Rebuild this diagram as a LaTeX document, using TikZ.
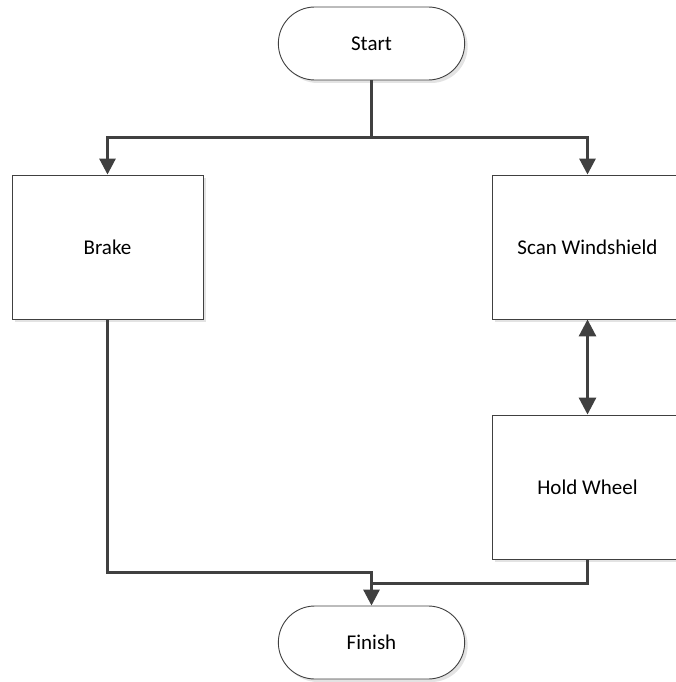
\documentclass[tikz,border=0pt]{standalone}
\usepackage{fontspec}
\setmainfont{Carlito}
\usetikzlibrary{arrows.meta,shapes.misc,shadows}
\definecolor{edge}{HTML}{404040}
\definecolor{shade}{HTML}{E3E3E3}
\tikzset{
  boxshadow/.style={drop shadow={shadow xshift=3pt,shadow yshift=-3pt,fill=shade,opacity=1}},
  terminal/.style={rounded rectangle,draw=edge,line width=0.9pt,fill=white,
    minimum width=193pt,minimum height=73pt,boxshadow,
    font=\fontsize{21}{25}\selectfont},
  process/.style={rectangle,draw=edge,line width=0.9pt,fill=white,
    minimum width=191pt,minimum height=144pt,boxshadow,
    font=\fontsize{21}{25}\selectfont},
  flow/.style={draw=edge,line width=3pt},
  flowarrow/.style={flow,-{Triangle[length=16pt,width=16pt]}},
  twoway/.style={flow,{Triangle[length=17pt,width=17pt]}-{Triangle[length=17pt,width=17pt]}}
}
\begin{document}
\begin{tikzpicture}[x=1pt,y=-1pt]
  \useasboundingbox (0,0) rectangle (676,682);
  \clip (0,0) rectangle (676,682);

  % flowchart blocks
  \node[terminal] (start)  at (371.5,43.5) {Start};
  \node[process]  (brake)  at (107.5,247)  {Brake};
  \node[process]  (scan)   at (587.5,247)  {Scan Windshield};
  \node[process]  (hold)   at (587.5,487)  {Hold Wheel};
  \node[terminal] (finish) at (371.5,642.5) {Finish};

  % branch and merge points
  \coordinate (split) at (371.5,137);
  \coordinate (mergeL) at (371.5,572);
  \coordinate (mergeR) at (371.5,583);

  % connectors
  \draw[flow] (start.south) -- (split);
  \draw[flowarrow] (split) -| (brake.north);
  \draw[flowarrow] (split) -| (scan.north);
  \draw[twoway] (scan.south) -- (hold.north);
  \draw[flowarrow] (brake.south) |- (mergeL) -- (finish.north);
  \draw[flow] (hold.south) |- (mergeR);
\end{tikzpicture}
\end{document}
